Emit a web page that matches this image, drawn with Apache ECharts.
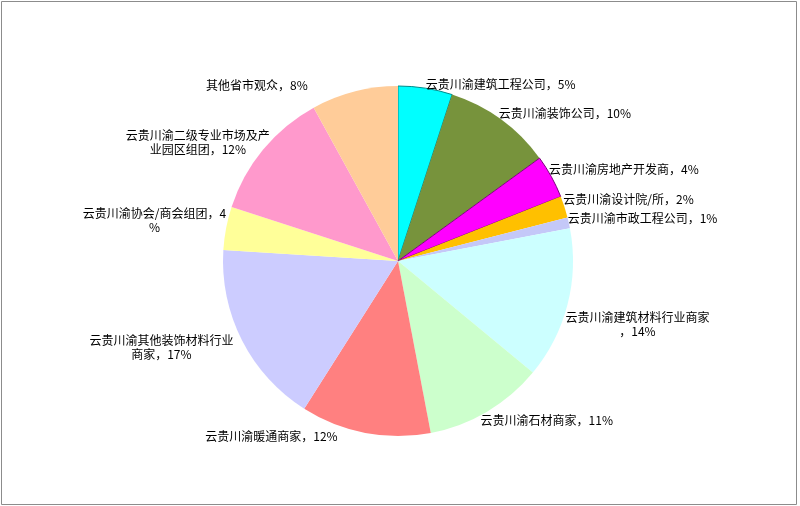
<!DOCTYPE html>
<html><head><meta charset="utf-8">
<script src="https://cdn.jsdelivr.net/npm/echarts@6/dist/echarts.min.js"></script>
<style>html,body{margin:0;padding:0;background:#fff}#c{width:800px;height:506px}</style>
</head><body><div id="c"></div>
<script>
const categories = [
  '云贵川渝建筑工程公司', '云贵川渝装饰公司', '云贵川渝房地产开发商', '云贵川渝设计院/所',
  '云贵川渝市政工程公司', '云贵川渝建筑材料行业商家', '云贵川渝石材商家', '云贵川渝暖通商家',
  '云贵川渝其他装饰材料行业商家', '云贵川渝协会/商会组团', '云贵川渝二级专业市场及产业园区组团', '其他省市观众'
];
const values = [5, 10, 4, 2, 1, 14, 11, 12, 17, 4, 12, 8];
const colors = ['#00FFFF', '#77933C', '#FF00FF', '#FFC000', '#C4C8F8', '#CCFFFF',
  '#CCFFCC', '#FF8080', '#CCCCFF', '#FFFF99', '#FF99CC', '#FFCC99'];
const borderColors = ['#008B8B', null, '#800080', null, null, null, null, null, null, null, null, null];

// label placement tweaks (dx, dy) relative to ECharts' outside placement
const labelNudge = [[-5, -1], [-9, -4], [-10, -6], [-9, -7], [-9, -4], [-10, 19],
  [-13, 6], [-22, 1], [-1, 6], [8, -7], [14, -5], [-41, -3]];

function charW(ch) { return /[\u3000-\u9fff\uff00-\uffef]/.test(ch) ? 12 : 6.5; }
function wrap(s, maxW) {
  let out = '', w = 0;
  for (const ch of s) {
    const cw = charW(ch);
    if (w + cw > maxW) { out += '\n'; w = 0; }
    out += ch; w += cw;
  }
  return out;
}

const chart = echarts.init(document.getElementById('c'), null, { renderer: 'canvas' });
chart.setOption({
  backgroundColor: '#ffffff',
  animation: false,
  graphic: [{
    type: 'rect', shape: { x: 1.5, y: 1.5, width: 795, height: 503 },
    style: { fill: 'none', stroke: '#8c8c8c', lineWidth: 1 }, silent: true
  }],
  series: [{
    type: 'pie',
    center: [398, 261],
    radius: 175,
    startAngle: 90,
    clockwise: true,
    avoidLabelOverlap: false,
    data: categories.map((n, i) => ({
      name: n, value: values[i],
      itemStyle: {
        color: colors[i],
        borderColor: borderColors[i] || colors[i],
        borderWidth: borderColors[i] ? 1 : 0
      }
    })),
    label: {
      show: true,
      position: 'outside',
      color: '#000',
      fontFamily: '"Noto Sans CJK SC", sans-serif',
      fontSize: 12,
      lineHeight: 14,
      formatter: p => wrap(p.name + '，' + p.percent + '%', 148)
    },
    labelLine: { show: false, length: 3, length2: 0 },
    labelLayout: function (params) {
      const r = params.labelRect;
      const n = labelNudge[params.dataIndex] || [0, 0];
      return { x: r.x + r.width / 2 + n[0], y: r.y + r.height / 2 + n[1], align: 'center', verticalAlign: 'middle' };
    },
    emphasis: { disabled: true }
  }]
});
</script></body></html>
